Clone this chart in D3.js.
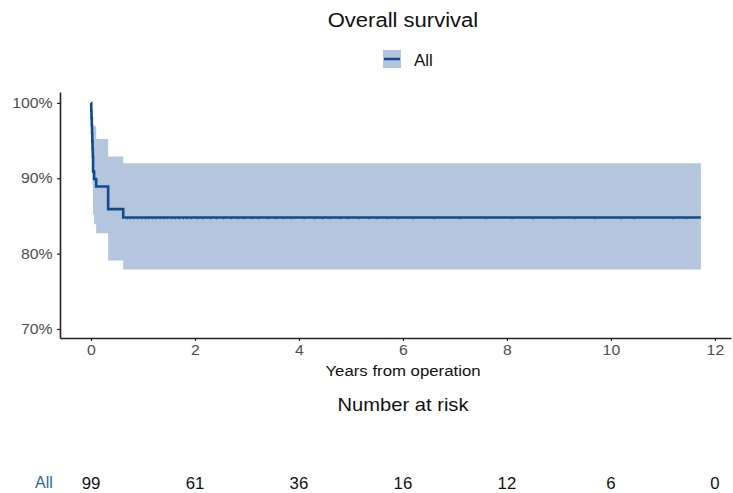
<!DOCTYPE html>
<html>
<head>
<meta charset="utf-8">
<script src="https://cdn.jsdelivr.net/npm/d3@7"></script>
<style>
  html, body { margin: 0; padding: 0; background: #fff; }
  svg { display: block; }
  text { font-family: "Liberation Sans", Arial, Helvetica, sans-serif; }
</style>
</head>
<body>
<svg id="chart" width="733" height="493"></svg>
<script>
// ---- data ----
const stepTimes = [0, 0.005, 0.01, 0.015, 0.02, 0.025, 0.03, 0.035, 0.04, 0.06, 0.1, 0.33, 0.62, 11.73];
const survival  = [100, 99.0, 98.0, 97.0, 96.0, 94.9, 93.9, 92.9, 90.9, 89.9, 88.9, 85.9, 84.8, 84.8];
const upperCI   = [100, 96.9, 96.9, 96.9, 96.9, 96.9, 96.9, 96.9, 96.9, 96.9, 95.2, 92.9, 92.0, 92.0];
const lowerCI   = [100, 97.0, 95.2, 93.6, 92.1, 90.6, 89.2, 87.8, 85.2, 83.9, 82.7, 79.1, 77.9, 77.9];
const censorTimes = [0.7, 0.75, 0.82, 0.9, 0.97, 1.05, 1.1, 1.18, 1.25, 1.33, 1.4, 1.46, 1.55, 1.62, 1.7,
  1.78, 1.85, 1.93, 2.05, 2.15, 2.3, 2.42, 2.55, 2.7, 2.83, 2.95, 3.1, 3.22, 3.4, 3.55, 3.7, 3.85,
  4.1, 4.3, 4.45, 4.6, 4.8, 4.95, 5.15, 5.35, 5.5, 5.7, 5.9, 6.2, 6.6, 7.1, 7.6, 8.1, 8.5, 8.9,
  9.3, 9.7, 10.2, 10.45, 11.2, 11.45];
const xTicks = [0, 2, 4, 6, 8, 10, 12];
const yTicks = [70, 80, 90, 100];
const riskTimes = [0, 2, 4, 6, 8, 10, 12];
const riskCounts = [99, 61, 36, 16, 12, 6, 0];
const seriesName = "All";
const titleText = "Overall survival";
const xTitle = "Years from operation";
const riskTitle = "Number at risk";

// ---- drawing ----
const svg = d3.select("#chart");
const lineColor = "#0e4c8c";
const bandColor = "#b3c6dd";
const SX = 1.13; // horizontal text stretch seen in the reference

const x = d3.scaleLinear().domain([-0.596, 12.31]).range([60, 731]);
const y = d3.scaleLinear().domain([68.8, 101.45]).range([338, 92]);

const pts = stepTimes.map((t, i) => ({ t, s: survival[i], lo: lowerCI[i], hi: upperCI[i] }));

function stretchedText(sel, px, py, str, size, anchor, fill, sx) {
  return sel.append("text")
    .attr("transform", `translate(${px},${py}) scale(${sx},1)`)
    .attr("text-anchor", anchor)
    .attr("font-size", size)
    .attr("fill", fill)
    .text(str);
}

// title
stretchedText(svg, 403, 27, titleText, 19.5, "middle", "#111", SX);

// legend
const lg = svg.append("g");
lg.append("rect").attr("x", 383).attr("y", 50).attr("width", 18).attr("height", 18).attr("fill", bandColor);
lg.append("line").attr("x1", 384).attr("x2", 400).attr("y1", 59).attr("y2", 59)
  .attr("stroke", lineColor).attr("stroke-width", 2.5);
stretchedText(lg, 414, 66, seriesName, 17, "start", "#111", 1.0);

// confidence band
const area = d3.area().curve(d3.curveStepAfter)
  .x(d => x(d.t)).y0(d => y(d.lo)).y1(d => y(d.hi));
svg.append("path").datum(pts).attr("d", area).attr("fill", bandColor);

// survival line
const line = d3.line().curve(d3.curveStepAfter).x(d => x(d.t)).y(d => y(d.s));
svg.append("path").datum(pts).attr("d", line)
  .attr("fill", "none").attr("stroke", lineColor).attr("stroke-width", 2.6);

// censor marks
function survAt(t) {
  let v = survival[0];
  for (let i = 0; i < stepTimes.length; i++) if (stepTimes[i] <= t) v = survival[i];
  return v;
}
svg.append("g").selectAll("line").data(censorTimes).join("line")
  .attr("x1", d => x(d)).attr("x2", d => x(d))
  .attr("y1", d => y(survAt(d))).attr("y2", d => y(survAt(d)) + 2.5)
  .attr("stroke", lineColor).attr("stroke-width", 0.8).attr("stroke-opacity", 0.6);

// axes
const axisColor = "#222";
const labelColor = "#4d4d4d";
const gx = svg.append("g").attr("transform", "translate(0,338)")
  .call(d3.axisBottom(x).tickValues(xTicks).tickSize(3).tickSizeOuter(0).tickFormat(d3.format("d")));
gx.select(".domain").attr("stroke", axisColor).attr("stroke-width", 1.6);
gx.selectAll(".tick line").attr("stroke", axisColor).attr("stroke-width", 1.2);
gx.selectAll(".tick text").attr("font-size", 14).attr("fill", labelColor)
  .attr("font-family", "Liberation Sans, Arial, sans-serif")
  .attr("y", 7).attr("dy", "0.71em").attr("transform", `scale(${SX},1)`);

const gy = svg.append("g").attr("transform", "translate(60,0)")
  .call(d3.axisLeft(y).tickValues(yTicks).tickSize(3).tickSizeOuter(0).tickFormat(d => d + "%"));
gy.select(".domain").attr("stroke", axisColor).attr("stroke-width", 1.6);
gy.selectAll(".tick line").attr("stroke", axisColor).attr("stroke-width", 1.2);
gy.selectAll(".tick text").attr("font-size", 14).attr("fill", labelColor)
  .attr("font-family", "Liberation Sans, Arial, sans-serif")
  .attr("x", -6.5).attr("transform", `scale(${SX},1)`);

// axis title
stretchedText(svg, 403, 376, xTitle, 15, "middle", "#111", 1.12);

// risk table
stretchedText(svg, 403, 411, riskTitle, 18, "middle", "#111", 1.12);
const rt = svg.append("g");
riskTimes.forEach((t, i) => {
  stretchedText(rt, x(t), 489, String(riskCounts[i]), 16, "middle", "#111", 1.05);
});
stretchedText(rt, 35, 488, seriesName, 16, "start", "#2f6796", 1.0);
</script>
</body>
</html>
